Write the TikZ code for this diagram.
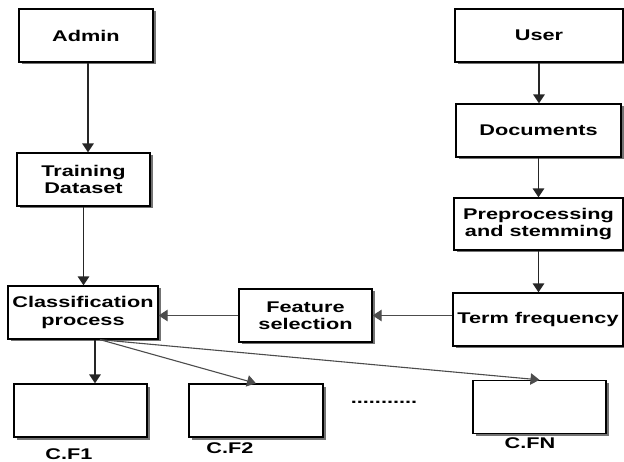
\documentclass[tikz,border=0pt]{standalone}
\usepackage{fontspec}
\setsansfont{Liberation Sans}[FakeStretch=1.4]
\usetikzlibrary{arrows.meta,shadows}

\begin{document}
\begin{tikzpicture}[x=1pt,y=-1pt,
	font=\sffamily\bfseries\fontsize{15.5}{17.5}\selectfont,
	block/.style={draw=black,line width=1.3pt,fill=white,align=center,minimum height=53pt,inner sep=2pt,
		drop shadow={shadow xshift=2.5pt,shadow yshift=-2.5pt,fill=black!55,opacity=1}},
	tag/.style={inner sep=0pt},
	>={Triangle[length=9pt,width=11.5pt]}]
\useasboundingbox (0,0) rectangle (624,462);
\node[block,minimum width=134pt]						(admin)		at (86,35.5)		{Admin};
\node[block,minimum width=133pt]						(train)		at (83.5,179.5)		{Training\\Dataset};
\node[block,minimum width=150pt]						(cls)		at (83,312.5)		{Classification\\process};
\node[block,minimum width=168pt]						(user)		at (539,35.5)		{User};
\node[block,minimum width=165pt]						(docs)		at (538.5,130.5)	{Documents};
\node[block,minimum width=169pt,minimum height=52pt]	(prep)		at (538.5,224)		{Preprocessing\\and stemming};
\node[block,minimum width=170pt]						(tf)		at (538,319.5)		{Term frequency};
\node[block,minimum width=133pt]						(fs)		at (305.5,315.5)	{Feature\\selection};
\node[block,minimum width=133pt]						(cf_1)		at (80.5,410.5)		{};
\node[block,minimum width=134pt]						(cf_2)		at (256,410.5)		{};
\node[block,minimum width=133pt]						(cf_n)		at (539.5,407)		{};
\node[tag]												(lbl_1)		at (69,454.5)		{C.F1};
\node[tag]												(lbl_2)		at (230,448)		{C.F2};
\node[tag]												(lbl_n)		at (530,443)		{C.FN};
\node[tag]												(dots)		at (384,402)		{...........};
\coordinate												(split)		at ([xshift=17pt]cls.south);
\path[->,line width=1.6pt,color=black!85]
([xshift=2pt]admin.south)	edge	([xshift=2pt]admin.south |- train.north)
(train.south)				edge	(train.south |- cls.north)
(user.south)				edge	(user.south |- docs.north)
(docs.south)				edge	(docs.south |- prep.north)
(prep.south)				edge	(prep.south |- tf.north)
([xshift=12pt]cls.south)	edge	([xshift=12pt]cls.south |- cf_1.north)
;
\path[->,line width=1.1pt,color=black!70]
(tf.west |- fs.east)		edge	(fs.east)
(fs.west)					edge	(fs.west -| cls.east)
(split)						edge	(cf_2.north)
(split)						edge	(cf_n.north)
;
\end{tikzpicture}
\end{document}
